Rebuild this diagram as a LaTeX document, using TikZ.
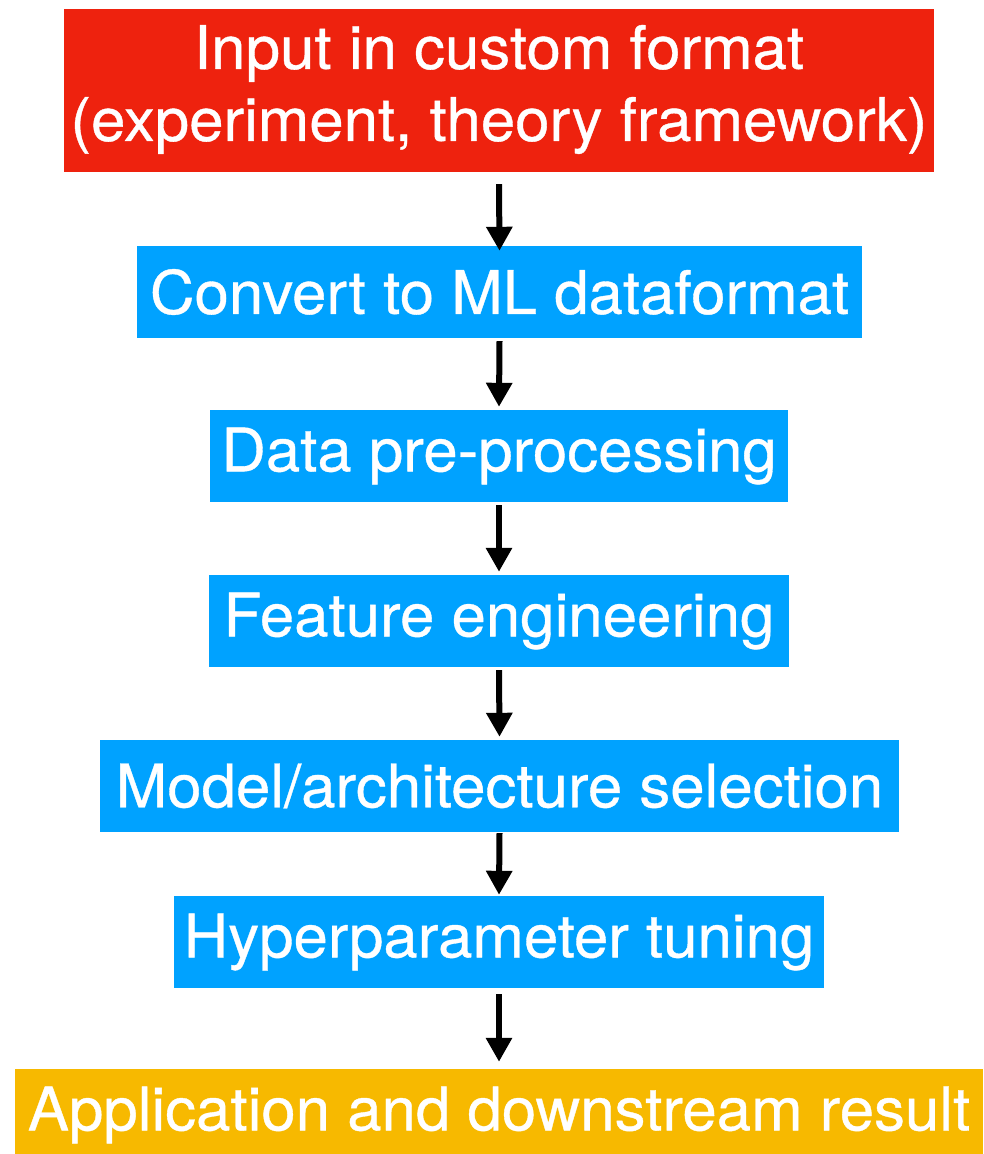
\documentclass[tikz,border=0pt]{standalone}
\usepackage{fontspec}
\setmainfont{TeX Gyre Heros}[FakeStretch=1.03,FakeBold=0.6]
\usetikzlibrary{arrows.meta}
\definecolor{inred}{RGB}{238,34,14}
\definecolor{stepblue}{RGB}{0,162,255}
\definecolor{outgold}{RGB}{247,185,0}
\begin{document}
\begin{tikzpicture}[x=1pt,y=-1pt,
  box/.style={inner sep=0pt,text=white,align=center,
    font=\fontsize{60}{72}\selectfont},
  arr/.style={-{Triangle[width=25pt,length=24pt]},line width=6pt,black}]
\useasboundingbox (0,0) rectangle (984,1154);
\fill[white] (0,0) rectangle (984,1154);
% boxes: width and height fixed, centred on x = 499
\node[box,fill=inred,minimum width=870pt,minimum height=163pt] (in) at (499,90.5)
  {\raisebox{-9pt}{\begin{tabular}{@{}c@{}}Input in custom format\\
   (experiment, theory framework)\end{tabular}}};
\node[box,fill=stepblue,minimum width=725pt,minimum height=92pt] (conv) at (499.5,292)
  {Convert to ML dataformat};
\node[box,fill=stepblue,minimum width=578pt,minimum height=92pt] (pre) at (499,456)
  {Data pre-processing};
\node[box,fill=stepblue,minimum width=580pt,minimum height=92pt] (feat) at (499,621)
  {Feature engineering};
\node[box,fill=stepblue,minimum width=799pt,minimum height=92pt] (model) at (499.5,786)
  {Model/architecture selection};
\node[box,fill=stepblue,minimum width=650pt,minimum height=92pt] (hyper) at (499,942)
  {Hyperparameter tuning};
\node[box,fill=outgold,minimum width=968pt,minimum height=92pt] (app) at (499,1115)
  {Application and downstream result};
% arrows between consecutive stages
\draw[arr] ([yshift=-12pt]in.south) -- ([yshift=-5pt]conv.north);
\draw[arr] ([yshift=-3pt]conv.south) -- ([yshift=3pt]pre.north);
\draw[arr] ([yshift=-3pt]pre.south) -- ([yshift=3pt]feat.north);
\draw[arr] ([yshift=-3pt]feat.south) -- ([yshift=3pt]model.north);
\draw[arr] ([yshift=-1pt]model.south) -- ([yshift=1pt]hyper.north);
\draw[arr] ([yshift=-6pt]hyper.south) -- ([yshift=7pt]app.north);
\end{tikzpicture}
\end{document}
